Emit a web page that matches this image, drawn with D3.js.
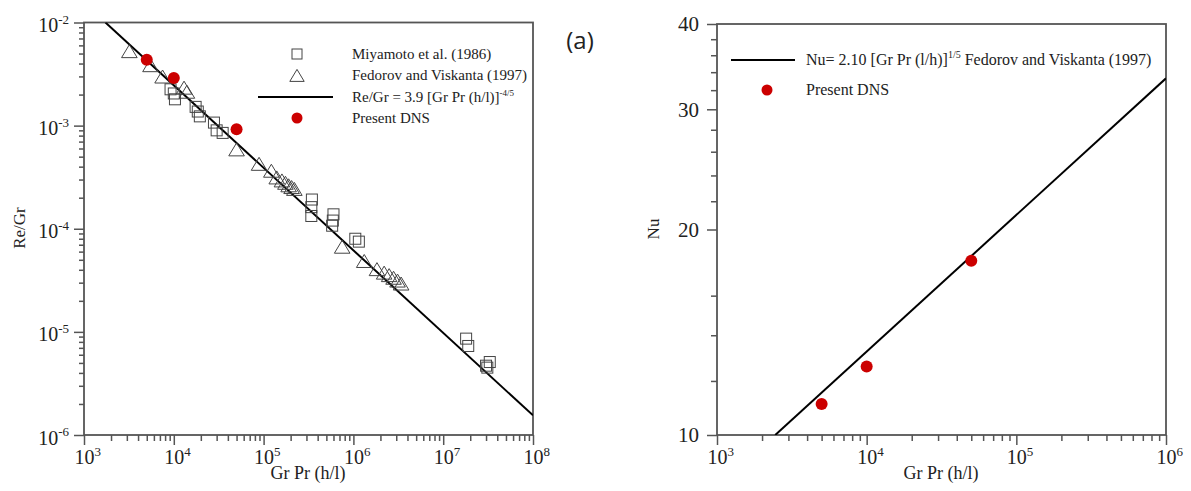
<!DOCTYPE html>
<html><head><meta charset="utf-8">
<script src="https://cdn.jsdelivr.net/npm/d3@7"></script>
<style>
body{margin:0;background:#fff;}
svg{display:block;}
text{font-family:"Liberation Serif","Times New Roman",serif;fill:#222;}
</style></head>
<body>
<svg id="c" width="1191" height="491"></svg>
<script>
// ---------- data ----------
const miyamotoX = [9.2e3,1.0e4,1.03e4,1.75e4,1.85e4,1.95e4,2.8e4,3.0e4,3.5e4,3.45e5,3.4e5,3.4e5,6.0e5,5.9e5,5.8e5,1.05e6,1.15e6,1.8e7,1.9e7,3.0e7,3.3e7,3.1e7];
const miyamotoY = [2.25e-3,2.05e-3,1.8e-3,1.52e-3,1.37e-3,1.23e-3,1.07e-3,9.0e-4,8.5e-4,1.92e-4,1.62e-4,1.33e-4,1.38e-4,1.2e-4,1.07e-4,8.0e-5,7.5e-5,8.6e-6,7.3e-6,4.7e-6,5.1e-6,4.5e-6];
const fedorovX = [3.2e3,5.5e3,7.5e3,1.3e4,1.4e4,5.0e4,8.9e4,1.22e5,1.4e5,1.6e5,1.75e5,1.9e5,2.05e5,2.2e5,7.5e5,1.32e6,1.83e6,2.2e6,2.5e6,2.8e6,3.1e6,3.4e6];
const fedorovY = [5.2e-3,3.8e-3,2.95e-3,2.3e-3,2.1e-3,5.8e-4,4.2e-4,3.6e-4,3.1e-4,2.9e-4,2.75e-4,2.6e-4,2.5e-4,2.4e-4,6.6e-5,4.8e-5,4.0e-5,3.7e-5,3.5e-5,3.3e-5,3.1e-5,2.9e-5];
const dnsX = [5e3,1e4,5e4];
const dnsReGr = [4.35e-3,2.9e-3,9.2e-4];
const dnsNu = [11.1,12.6,18.0];
const fitLeftX = [1734,1e8];
const fitLeftY = [1e-2,1.55e-6];
const fitRightX = [2450,1e6];
const fitRightY = [10,33.3];
const leftXMajor = [1e3,1e4,1e5,1e6,1e7,1e8];
const leftXExp = ["3","4","5","6","7","8"];
const leftYMajor = [1e-2,1e-3,1e-4,1e-5,1e-6];
const leftYExp = ["-2","-3","-4","-5","-6"];
const rightXMajor = [1e3,1e4,1e5,1e6];
const rightXExp = ["3","4","5","6"];
const rightYMajor = [10,20,30,40];
const rightYMinor = [12,14,16,22,24,26,28,32,34,36,38];
const legendLeftLabels = ["Miyamoto et al. (1986)","Fedorov and Viskanta (1997)"];

// ---------- helpers ----------
const svg = d3.select("#c");
const RED = "#cc0000", AX = "#555";
function minors(lo, hi){ const r=[]; for(let e=lo;e<hi;e++) for(let m=2;m<=9;m++) r.push(m*Math.pow(10,e)); return r; }
function supLabels(g, exps, centerBase){
  g.selectAll(".tick text").each(function(d,i){
    const t = d3.select(this); t.text("").attr("font-size","20px");
    if (centerBase) t.attr("text-anchor","start").attr("x",-10);
    t.append("tspan").text("10");
    t.append("tspan").attr("dy","-0.65em").attr("font-size","13px").text(exps[i]);
  });
}
function styleAxis(g){
  g.select(".domain").remove();
  g.selectAll(".tick line").attr("stroke",AX).attr("stroke-width",1.5);
}
function tri(x,y,s){ return `M${x},${y-s*0.55}L${x+s*0.6},${y+s*0.45}L${x-s*0.6},${y+s*0.45}Z`; }

// ---------- left panel ----------
const L = {x0:84, x1:533, y0:22.5, y1:435};
const lx = d3.scaleLog().domain([1e3,1e8]).range([L.x0,L.x1]);
const ly = d3.scaleLog().domain([1e-6,1e-2]).range([L.y1,L.y0]);
const gl = svg.append("g");
gl.append("g").attr("transform",`translate(0,${L.y1})`)
  .call(d3.axisBottom(lx).tickValues(minors(3,8)).tickSize(6).tickFormat("")).call(styleAxis);
gl.append("g").attr("transform",`translate(${L.x0},0)`)
  .call(d3.axisLeft(ly).tickValues(minors(-6,-2)).tickSize(5).tickFormat("")).call(styleAxis);
const lxa = gl.append("g").attr("transform",`translate(0,${L.y1})`)
  .call(d3.axisBottom(lx).tickValues(leftXMajor).tickSize(10).tickPadding(5)).call(styleAxis);
lxa.selectAll(".tick text").attr("fill","#222");
supLabels(lxa, leftXExp, true);
const lya = gl.append("g").attr("transform",`translate(${L.x0},0)`)
  .call(d3.axisLeft(ly).tickValues(leftYMajor).tickSize(10).tickPadding(5)).call(styleAxis);
lya.selectAll(".tick text").attr("fill","#222").attr("dy","0.45em");
supLabels(lya, leftYExp, false);
gl.append("rect").attr("x",L.x0).attr("y",L.y0).attr("width",L.x1-L.x0).attr("height",L.y1-L.y0)
  .attr("fill","none").attr("stroke",AX).attr("stroke-width",1.8);
svg.append("clipPath").attr("id","clipL").append("rect").attr("x",L.x0).attr("y",L.y0).attr("width",L.x1-L.x0).attr("height",L.y1-L.y0);
const pl = gl.append("g").attr("clip-path","url(#clipL)");
pl.append("path").datum(fitLeftX.map((x,i)=>[x,fitLeftY[i]]))
  .attr("d", d3.line().x(d=>lx(d[0])).y(d=>ly(d[1]))).attr("stroke","#000").attr("stroke-width",2).attr("fill","none");
pl.selectAll(".sq").data(miyamotoX.map((x,i)=>[x,miyamotoY[i]])).join("rect")
  .attr("x",d=>lx(d[0])-5.5).attr("y",d=>ly(d[1])-5.5).attr("width",11).attr("height",11)
  .attr("fill","none").attr("stroke","#444").attr("stroke-width",1);
pl.selectAll(".tr").data(fedorovX.map((x,i)=>[x,fedorovY[i]])).join("path")
  .attr("d",d=>tri(lx(d[0]),ly(d[1]),13)).attr("fill","none").attr("stroke","#444").attr("stroke-width",1);
pl.selectAll(".dn").data(dnsX.map((x,i)=>[x,dnsReGr[i]])).join("circle")
  .attr("cx",d=>lx(d[0])).attr("cy",d=>ly(d[1])).attr("r",6).attr("fill",RED);
svg.append("text").attr("transform","translate(25,228) rotate(-90)").attr("text-anchor","middle")
  .attr("font-size","17px").text("Re/Gr");
svg.append("text").attr("x",308).attr("y",479).attr("text-anchor","middle").attr("font-size","18px").text("Gr Pr (h/l)");
// legend left
const lg = svg.append("g");
lg.append("rect").attr("x",292).attr("y",49).attr("width",10).attr("height",10).attr("fill","none").attr("stroke","#444");
lg.append("path").attr("d",tri(297,76,12)).attr("fill","none").attr("stroke","#444");
lg.append("line").attr("x1",258).attr("x2",333).attr("y1",97).attr("y2",97).attr("stroke","#000").attr("stroke-width",2);
lg.append("circle").attr("cx",297).attr("cy",118).attr("r",5.5).attr("fill",RED);
lg.append("text").attr("x",352).attr("y",59).attr("font-size","15px").text(legendLeftLabels[0]);
lg.append("text").attr("x",352).attr("y",80).attr("font-size","15px").text(legendLeftLabels[1]);
const lt = lg.append("text").attr("x",352).attr("y",102).attr("font-size","15px");
lt.append("tspan").text("Re/Gr = 3.9 [Gr Pr (h/l)]");
lt.append("tspan").attr("dy","-6").attr("font-size","9px").text("-4/5");
lg.append("text").attr("x",352).attr("y",123).attr("font-size","15px").text("Present DNS");
svg.append("text").attr("x",580).attr("y",49).attr("text-anchor","middle")
  .style("font-family","'Open Sans','Liberation Sans',sans-serif").attr("font-size","24px").text("(a)");

// ---------- right panel ----------
const R = {x0:717, x1:1166, y0:24, y1:435};
const rx = d3.scaleLog().domain([1e3,1e6]).range([R.x0,R.x1]);
const ry = d3.scaleLog().domain([10,40]).range([R.y1,R.y0]);
const gr = svg.append("g");
gr.append("g").attr("transform",`translate(0,${R.y1})`)
  .call(d3.axisBottom(rx).tickValues(minors(3,6)).tickSize(6).tickFormat("")).call(styleAxis);
gr.append("g").attr("transform",`translate(${R.x0},0)`)
  .call(d3.axisLeft(ry).tickValues(rightYMinor).tickSize(6).tickFormat("")).call(styleAxis);
const rxa = gr.append("g").attr("transform",`translate(0,${R.y1})`)
  .call(d3.axisBottom(rx).tickValues(rightXMajor).tickSize(10).tickPadding(5)).call(styleAxis);
rxa.selectAll(".tick text").attr("fill","#222");
supLabels(rxa, rightXExp, true);
const rya = gr.append("g").attr("transform",`translate(${R.x0},0)`)
  .call(d3.axisLeft(ry).tickValues(rightYMajor).tickSize(10).tickPadding(8).tickFormat(d3.format("d"))).call(styleAxis);
rya.selectAll(".tick text").attr("font-size","21px").attr("fill","#222");
gr.append("rect").attr("x",R.x0).attr("y",R.y0).attr("width",R.x1-R.x0).attr("height",R.y1-R.y0)
  .attr("fill","none").attr("stroke",AX).attr("stroke-width",1.8);
svg.append("clipPath").attr("id","clipR").append("rect").attr("x",R.x0).attr("y",R.y0).attr("width",R.x1-R.x0).attr("height",R.y1-R.y0);
const pr = gr.append("g").attr("clip-path","url(#clipR)");
pr.append("path").datum(fitRightX.map((x,i)=>[x,fitRightY[i]]))
  .attr("d", d3.line().x(d=>rx(d[0])).y(d=>ry(d[1]))).attr("stroke","#000").attr("stroke-width",2).attr("fill","none");
pr.selectAll(".dn").data(dnsX.map((x,i)=>[x,dnsNu[i]])).join("circle")
  .attr("cx",d=>rx(d[0])).attr("cy",d=>ry(d[1])).attr("r",6).attr("fill",RED);
svg.append("text").attr("transform","translate(659,229) rotate(-90)").attr("text-anchor","middle")
  .attr("font-size","17px").text("Nu");
svg.append("text").attr("x",941).attr("y",479).attr("text-anchor","middle").attr("font-size","18px").text("Gr Pr (h/l)");
// legend right
const rg = svg.append("g");
rg.append("line").attr("x1",731).attr("x2",795).attr("y1",60).attr("y2",60).attr("stroke","#000").attr("stroke-width",2);
const rt = rg.append("text").attr("x",806).attr("y",65).attr("font-size","16px");
rt.append("tspan").text("Nu= 2.10 [Gr Pr (l/h)]");
rt.append("tspan").attr("dy","-7").attr("font-size","10px").text("1/5");
rt.append("tspan").attr("dy","7").text(" Fedorov and Viskanta (1997)");
rg.append("circle").attr("cx",767).attr("cy",90).attr("r",5.5).attr("fill",RED);
rg.append("text").attr("x",806).attr("y",95).attr("font-size","16px").text("Present DNS");
</script>
</body></html>
